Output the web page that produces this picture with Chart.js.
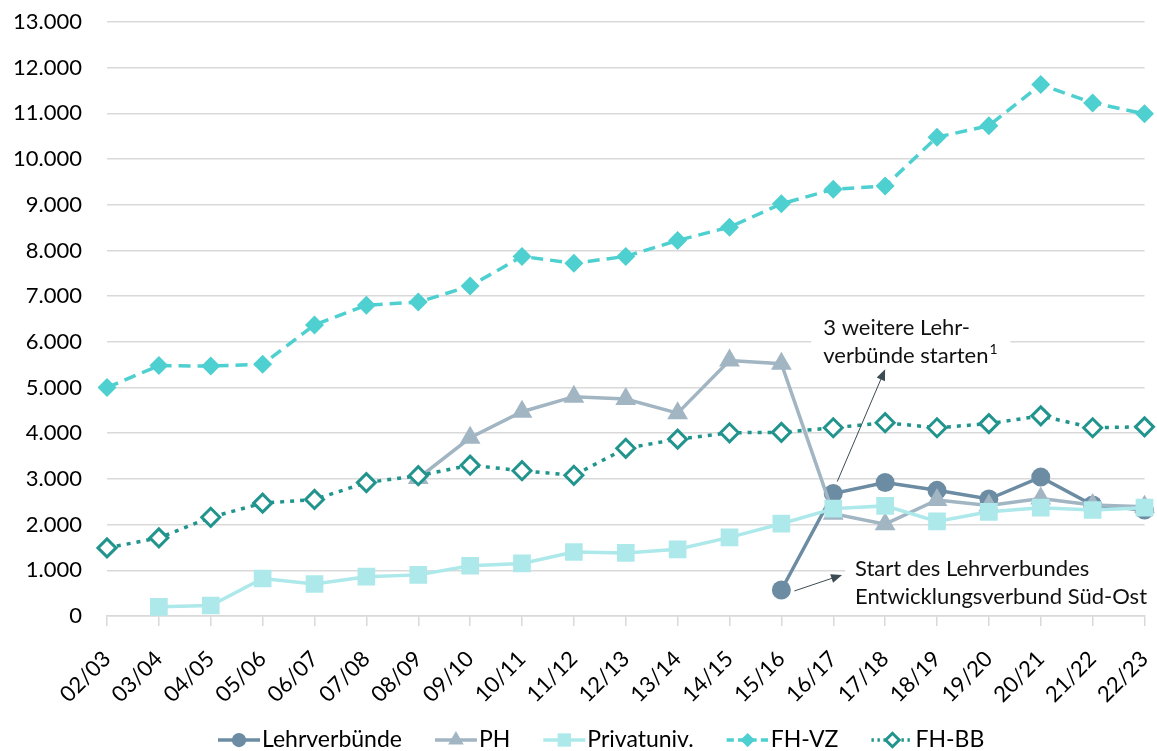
<!DOCTYPE html>
<html>
<head>
<meta charset="utf-8">
<script src="https://cdn.jsdelivr.net/npm/chart.js@4/dist/chart.umd.min.js"></script>
<style>
  html, body { margin: 0; padding: 0; background: #fff; }
  #wrap { width: 1157px; height: 751px; }
</style>
</head>
<body>
<div id="wrap"><canvas id="chart" width="1157" height="751"></canvas></div>
<script>
const categories = ["02/03", "03/04", "04/05", "05/06", "06/07", "07/08", "08/09", "09/10", "10/11", "11/12",
  "12/13", "13/14", "14/15", "15/16", "16/17", "17/18", "18/19", "19/20", "20/21", "21/22", "22/23"];

const lehrverbuende = [null, null, null, null, null, null, null, null, null, null, null, null, null,
  570, 2680, 2920, 2750, 2560, 3040, 2430, 2320];
const ph = [null, null, null, null, null, null,
  3020, 3900, 4470, 4800, 4750, 4440, 5590, 5520, 2240, 2010, 2540, 2420, 2570, 2430, 2390];
const privatuniv = [null, 200, 230, 820, 700, 860, 900, 1100, 1150, 1400, 1380, 1460, 1720, 2020,
  2350, 2410, 2070, 2280, 2370, 2320, 2370];
const fhVz = [5000, 5480, 5470, 5510, 6370, 6800, 6870, 7220, 7870, 7720, 7870, 8220, 8510, 9020,
  9340, 9410, 10480, 10730, 11630, 11230, 10990];
const fhBb = [1490, 1710, 2160, 2470, 2550, 2920, 3070, 3300, 3180, 3080, 3670, 3870, 4010, 4020,
  4120, 4230, 4120, 4210, 4380, 4120, 4140];

const seriesNames = ["Lehrverbünde", "PH", "Privatuniv.", "FH-VZ", "FH-BB"];

const FONT = "Lato, 'Open Sans', sans-serif";

function formatDe(v) {
  return String(v).replace(/\B(?=(\d{3})+(?!\d))/g, ".");
}

const datasets = [
  {
    label: seriesNames[0], data: lehrverbuende, order: 5,
    borderColor: "#6b8ca2", backgroundColor: "#6b8ca2", borderWidth: 3.5,
    pointStyle: "circle", pointRadius: 9.5, pointBorderWidth: 0, pointBackgroundColor: "#6b8ca2"
  },
  {
    label: seriesNames[1], data: ph, order: 4,
    borderColor: "#a1b5c3", backgroundColor: "#a1b5c3", borderWidth: 3.5,
    pointStyle: "triangle", pointRadius: 12, pointBorderWidth: 0, pointBackgroundColor: "#a1b5c3"
  },
  {
    label: seriesNames[2], data: privatuniv, order: 3,
    borderColor: "#ade8ea", backgroundColor: "#ade8ea", borderWidth: 3.5,
    pointStyle: "rect", pointRadius: 12.5, pointBorderWidth: 0, pointBackgroundColor: "#ade8ea"
  },
  {
    label: seriesNames[3], data: fhVz, order: 2,
    borderColor: "#4ecfd0", backgroundColor: "#4ecfd0", borderWidth: 3.5, borderDash: [12, 7],
    pointStyle: "rectRot", pointRadius: 9.5, pointBorderWidth: 0, pointBackgroundColor: "#4ecfd0"
  },
  {
    label: seriesNames[4], data: fhBb, order: 1,
    borderColor: "#21948d", backgroundColor: "#ffffff", borderWidth: 3.5, borderDash: [4, 6],
    pointStyle: "rectRot", pointRadius: 9, pointBorderWidth: 3,
    pointBorderColor: "#21948d", pointBackgroundColor: "#ffffff"
  }
];

// legend drawn below the axis: short line with the marker on top
const legendPlugin = {
  id: "lineLegend",
  afterDraw(chart) {
    const ctx = chart.ctx;
    const y = 740;
    const lineLen = 42;
    const gapText = 2;
    const gapItem = 33;
    ctx.save();
    ctx.font = "23px " + FONT;
    ctx.textBaseline = "middle";
    let x = 218;
    datasets.forEach(function (ds) {
      ctx.save();
      ctx.strokeStyle = ds.borderColor;
      ctx.lineWidth = 3.5;
      ctx.setLineDash(ds.borderDash ? ds.borderDash.map(function (d) { return d * 0.6; }) : []);
      ctx.beginPath();
      ctx.moveTo(x, y);
      ctx.lineTo(x + lineLen, y);
      ctx.stroke();
      ctx.setLineDash([]);
      ctx.fillStyle = ds.pointBackgroundColor;
      ctx.strokeStyle = ds.pointBorderColor || ds.borderColor;
      ctx.lineWidth = ds.pointBorderWidth;
      Chart.helpers.drawPoint(ctx, {
        pointStyle: ds.pointStyle,
        radius: ds.pointRadius * 0.75,
        rotation: 0,
        borderWidth: ds.pointBorderWidth
      }, x + lineLen / 2, y);
      ctx.restore();
      x += lineLen + gapText;
      ctx.fillStyle = "#000";
      ctx.textAlign = "left";
      ctx.fillText(ds.label, x, y);
      x += ctx.measureText(ds.label).width + gapItem;
    });
    ctx.restore();
  }
};

function drawArrow(ctx, x1, y1, x2, y2) {
  const ang = Math.atan2(y2 - y1, x2 - x1);
  const head = 11;
  ctx.beginPath();
  ctx.moveTo(x1, y1);
  ctx.lineTo(x2 - Math.cos(ang) * head * 0.8, y2 - Math.sin(ang) * head * 0.8);
  ctx.stroke();
  ctx.beginPath();
  ctx.moveTo(x2, y2);
  ctx.lineTo(x2 - head * Math.cos(ang) + 4.5 * Math.sin(ang), y2 - head * Math.sin(ang) - 4.5 * Math.cos(ang));
  ctx.lineTo(x2 - head * Math.cos(ang) - 4.5 * Math.sin(ang), y2 - head * Math.sin(ang) + 4.5 * Math.cos(ang));
  ctx.closePath();
  ctx.fill();
}

// the two notes with arrows
const notesPlugin = {
  id: "notes",
  afterDatasetsDraw(chart) {
    const ctx = chart.ctx;
    const xs = chart.scales.x;
    const ys = chart.scales.y;
    const step = xs.getPixelForValue(1) - xs.getPixelForValue(0);
    ctx.save();
    ctx.font = "22px " + FONT;
    ctx.textBaseline = "middle";
    ctx.textAlign = "left";

    // note 1
    const t1x = xs.getPixelForValue(14) - 10;
    const t1y = ys.getPixelForValue(6000) - 14;
    const w1 = ctx.measureText("verbünde starten").width;
    ctx.fillStyle = "#fff";
    ctx.fillRect(t1x - 12, t1y - 18, w1 + 34, 62);
    ctx.fillStyle = "#111";
    ctx.fillText("3 weitere Lehr-", t1x, t1y);
    ctx.fillText("verbünde starten", t1x, t1y + 28);
    ctx.font = "14px " + FONT;
    ctx.fillText("1", t1x + w1 + 1, t1y + 22);

    ctx.strokeStyle = "#3d4b52";
    ctx.fillStyle = "#3d4b52";
    ctx.lineWidth = 1;
    drawArrow(ctx,
      xs.getPixelForValue(14) + 4, ys.getPixelForValue(lehrverbuende[14]) - 12,
      xs.getPixelForValue(15), ys.getPixelForValue(5400));

    // note 2
    ctx.font = "22px " + FONT;
    const t2x = xs.getPixelForValue(14) + step * 0.42;
    const t2y = ys.getPixelForValue(1000) - 1;
    const w2 = ctx.measureText("Entwicklungsverbund Süd-Ost").width;
    ctx.fillStyle = "#fff";
    ctx.fillRect(t2x - 10, t2y - 16, w2 + 20, 56);
    ctx.fillStyle = "#111";
    ctx.fillText("Start des Lehrverbundes", t2x, t2y);
    ctx.fillText("Entwicklungsverbund Süd-Ost", t2x, t2y + 28);

    ctx.fillStyle = "#3d4b52";
    drawArrow(ctx,
      xs.getPixelForValue(13) + 13, ys.getPixelForValue(lehrverbuende[13]) + 1,
      xs.getPixelForValue(13) + step * 1.17, ys.getPixelForValue(900));
    ctx.restore();
  }
};

new Chart(document.getElementById("chart"), {
  type: "line",
  data: { labels: categories, datasets: datasets },
  options: {
    responsive: false,
    animation: false,
    layout: { padding: { top: 22, right: 0, left: 0, bottom: 0 } },
    elements: { line: { tension: 0 } },
    plugins: {
      legend: { display: false },
      tooltip: { enabled: false }
    },
    scales: {
      x: {
        offset: false,
        afterFit: function (scale) {
          scale.height = 135;
          scale.paddingLeft = 0;
          scale.paddingRight = 0;
        },
        grid: {
          display: true,
          drawOnChartArea: false,
          drawTicks: true,
          tickLength: 10,
          color: "#d9d9d9",
          lineWidth: 1.5
        },
        border: { display: true, color: "#d9d9d9", width: 1.5 },
        ticks: {
          autoSkip: false,
          minRotation: 45,
          maxRotation: 45,
          padding: 20,
          color: "#000",
          font: { family: FONT, size: 22 }
        }
      },
      y: {
        min: 0,
        max: 13000,
        afterFit: function (scale) {
          scale.width = 107;
          scale.paddingTop = 0;
          scale.paddingBottom = 0;
        },
        grid: { color: "#d9d9d9", lineWidth: 1.5, drawTicks: false },
        border: { display: false },
        ticks: {
          stepSize: 1000,
          padding: 25,
          color: "#000",
          font: { family: FONT, size: 22 },
          callback: function (value) { return formatDe(value); }
        }
      }
    }
  },
  plugins: [notesPlugin, legendPlugin]
});
</script>
</body>
</html>
